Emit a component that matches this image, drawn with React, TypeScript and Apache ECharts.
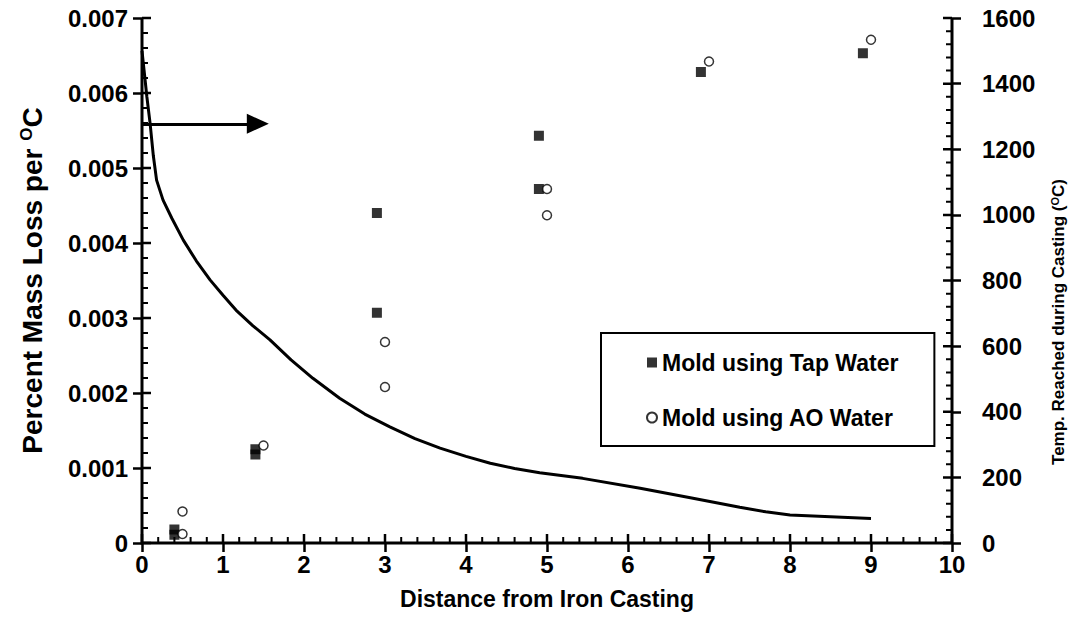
import React, { useEffect, useRef } from "react";
import * as echarts from "echarts";

const tapX = [0.4, 0.4, 1.4, 1.4, 2.9, 2.9, 4.9, 4.9, 6.9, 8.9];
const tapY = [0.00018, 0.00011, 0.00125, 0.00118, 0.0044, 0.00307, 0.00543, 0.00472, 0.00628, 0.00653];
const aoX = [0.5, 0.5, 1.5, 3.0, 3.0, 5.0, 5.0, 7.0, 9.0];
const aoY = [0.00042, 0.00012, 0.0013, 0.00268, 0.00208, 0.00472, 0.00437, 0.00642, 0.00671];
const curveX = [0, 0.03, 0.06, 0.1, 0.14, 0.18, 0.26, 0.37, 0.51, 0.67, 0.84, 1.0, 1.16, 1.37, 1.58, 1.84, 2.11, 2.44, 2.75, 3.06, 3.37, 3.68, 4.0, 4.3, 4.6, 4.91, 5.44, 6.15, 6.77, 7.38, 7.7, 8.0, 8.5, 9.0];
const curveT = [1500, 1430, 1360, 1279, 1180, 1106, 1045, 989, 923, 860, 802, 755, 710, 662, 619, 558, 502, 441, 393, 354, 318, 289, 264, 243, 227, 214, 197, 167, 138, 109, 95, 85, 80, 75];
const arrowX = [0, 1.43];
const arrowY = 0.00559;
const xRange = [0, 10];
const yRange = [0, 0.007];
const y2Range = [0, 1600];
const xStep = 1;
const yStep = 0.001;
const y2Step = 200;
const minorParts = 5;

const FONT = 'Arial, "Liberation Sans", sans-serif';

const steps = (range: number[], step: number) => {
  const out: number[] = [];
  const n = Math.round((range[1] - range[0]) / step);
  for (let i = 0; i <= n; i++) out.push(range[0] + i * step);
  return out;
};

export default function App() {
  const ref = useRef<HTMLDivElement>(null);
  useEffect(() => {
    if (!ref.current) return;
    const chart = echarts.init(ref.current, undefined, { renderer: "svg" });
    const tickLabel = { fontFamily: FONT, fontWeight: "bold", fontSize: 24, color: "#000" };
    const W = 1070, H = 636;
    const L = 142, R = 118, T = 18, B = 93;
    const main = { left: L, right: R, top: T, bottom: B, show: false };
    const noLine = { show: false, onZero: false };

    // data units per pixel, from the grid size
    const dxPerPx = (xRange[1] - xRange[0]) / (W - L - R);
    const dyPerPx = (yRange[1] - yRange[0]) / (H - T - B);
    const toY = (v2: number) => yRange[0] + ((v2 - y2Range[0]) / (y2Range[1] - y2Range[0])) * (yRange[1] - yRange[0]);

    const frameData: any[] = [
      [xRange[0], yRange[1]],
      [xRange[0], yRange[0]],
      [xRange[1], yRange[0]],
      [xRange[1], yRange[1]],
    ];
    const majorData: any[] = [];
    const minorData: any[] = [];
    const pushSeg = (arr: any[], a: number[], b: number[]) => {
      arr.push(a, b, "-");
    };
    steps(xRange, xStep / minorParts).forEach((v, i) => {
      const major = i % minorParts === 0;
      const len = (major ? 9 : 6) * dyPerPx;
      pushSeg(major ? majorData : minorData, [v, yRange[0]], [v, yRange[0] + len]);
    });
    steps(yRange, yStep / minorParts).forEach((v, i) => {
      const major = i % minorParts === 0;
      const len = (major ? 9 : 6) * dxPerPx;
      pushSeg(major ? majorData : minorData, [xRange[0], v], [xRange[0] + len, v]);
    });
    steps(y2Range, y2Step / minorParts).forEach((v, i) => {
      const major = i % minorParts === 0;
      const len = (major ? 9 : 6) * dxPerPx;
      pushSeg(major ? majorData : minorData, [xRange[1], toY(v)], [xRange[1] - len, toY(v)]);
    });

    const outTicks = (position: string, range: number[], interval: number) => ({
      type: "value",
      gridIndex: 1,
      position,
      min: range[0],
      max: range[1],
      interval,
      axisLine: noLine,
      axisLabel: { show: false },
      axisTick: { show: true, inside: false, length: 9, lineStyle: { color: "#000", width: 2.5 } },
      splitLine: { show: false },
    });
    const frameSeries = (name: string, data: any[], width: number) => ({
      name,
      type: "line",
      xAxisIndex: 0,
      yAxisIndex: 0,
      data,
      showSymbol: false,
      connectNulls: false,
      clip: false,
      silent: true,
      smooth: false,
      lineStyle: { color: "#000", width, cap: "butt", join: "miter" },
      itemStyle: { color: "#000" },
      z: 6,
    });

    chart.setOption({
      animation: false,
      grid: [main, main],
      legend: {
        data: ["Mold using Tap Water", "Mold using AO Water"],
        orient: "vertical",
        left: 601,
        top: 333,
        padding: [18, 36, 17, 45],
        itemGap: 32,
        itemWidth: 10,
        itemHeight: 10,
        borderColor: "#000",
        borderWidth: 2,
        backgroundColor: "#fff",
        textStyle: { fontFamily: FONT, fontWeight: "bold", fontSize: 23, color: "#000" },
      },
      xAxis: [
        {
          type: "value",
          gridIndex: 0,
          min: xRange[0],
          max: xRange[1],
          interval: xStep,
          name: "Distance from Iron Casting",
          nameLocation: "middle",
          nameGap: 44,
          nameTextStyle: { fontFamily: FONT, fontWeight: "bold", fontSize: 23, color: "#000" },
          axisLine: noLine,
          axisLabel: { ...tickLabel, margin: 9 },
          axisTick: { show: false },
          splitLine: { show: false },
        },
        outTicks("bottom", xRange, xStep),
      ],
      yAxis: [
        {
          type: "value",
          gridIndex: 0,
          position: "left",
          min: yRange[0],
          max: yRange[1],
          interval: yStep,
          name: "Percent Mass Loss per {sup|O}C",
          nameLocation: "middle",
          nameGap: 96,
          nameTextStyle: {
            fontFamily: FONT,
            fontWeight: "bold",
            fontSize: 28,
            color: "#000",
            rich: {
              sup: { fontFamily: FONT, fontWeight: "bold", fontSize: 17, color: "#000", verticalAlign: "top" },
            },
          },
          axisLine: noLine,
          axisLabel: { ...tickLabel, margin: 14 },
          axisTick: { show: false },
          splitLine: { show: false },
        },
        {
          type: "value",
          gridIndex: 0,
          position: "right",
          min: y2Range[0],
          max: y2Range[1],
          interval: y2Step,
          axisLine: noLine,
          axisLabel: { ...tickLabel, margin: 30, formatter: (v: number) => String(v) },
          axisTick: { show: false },
          splitLine: { show: false },
        },
        outTicks("left", yRange, yStep),
        outTicks("right", y2Range, y2Step),
      ],
      graphic: [
        {
          type: "text",
          x: 1058,
          y: 322,
          rotation: Math.PI / 2,
          style: {
            text: "Temp. Reached during Casting ({sup|O}C)",
            fontFamily: FONT,
            fontWeight: "bold",
            fontSize: 17,
            fill: "#000",
            align: "center",
            verticalAlign: "middle",
            rich: {
              sup: { fontFamily: FONT, fontWeight: "bold", fontSize: 11, fill: "#000", verticalAlign: "top" },
            },
          },
        },
      ],
      series: [
        frameSeries("frame", frameData, 3),
        frameSeries("majorTicks", majorData, 2.5),
        frameSeries("minorTicks", minorData, 2),
        {
          name: "Temperature",
          type: "line",
          xAxisIndex: 0,
          yAxisIndex: 1,
          data: curveX.map((x, i) => [x, curveT[i]]),
          showSymbol: false,
          smooth: false,
          lineStyle: { color: "#000", width: 3 },
          itemStyle: { color: "#000" },
          z: 3,
        },
        {
          name: "Mold using Tap Water",
          type: "scatter",
          xAxisIndex: 0,
          yAxisIndex: 0,
          data: tapX.map((x, i) => [x, tapY[i]]),
          symbol: "rect",
          symbolSize: 10,
          itemStyle: { color: "#000" },
          z: 4,
          markLine: {
            silent: true,
            symbol: ["none", "triangle"],
            symbolSize: [20, 22],
            label: { show: false },
            lineStyle: { color: "#000", width: 3, type: "solid" },
            data: [[{ coord: [arrowX[0], arrowY] }, { coord: [arrowX[1], arrowY] }]],
          },
        },
        {
          name: "Mold using AO Water",
          type: "scatter",
          xAxisIndex: 0,
          yAxisIndex: 0,
          data: aoX.map((x, i) => [x, aoY[i]]),
          symbol: "circle",
          symbolSize: 9,
          itemStyle: { color: "#fff", borderColor: "#000", borderWidth: 1.5 },
          z: 5,
        },
      ],
    });

    return () => chart.dispose();
  }, []);
  return <div ref={ref} style={{ position: "fixed", left: 0, top: 0, width: 1070, height: 636, background: "#fff" }} />;
}
